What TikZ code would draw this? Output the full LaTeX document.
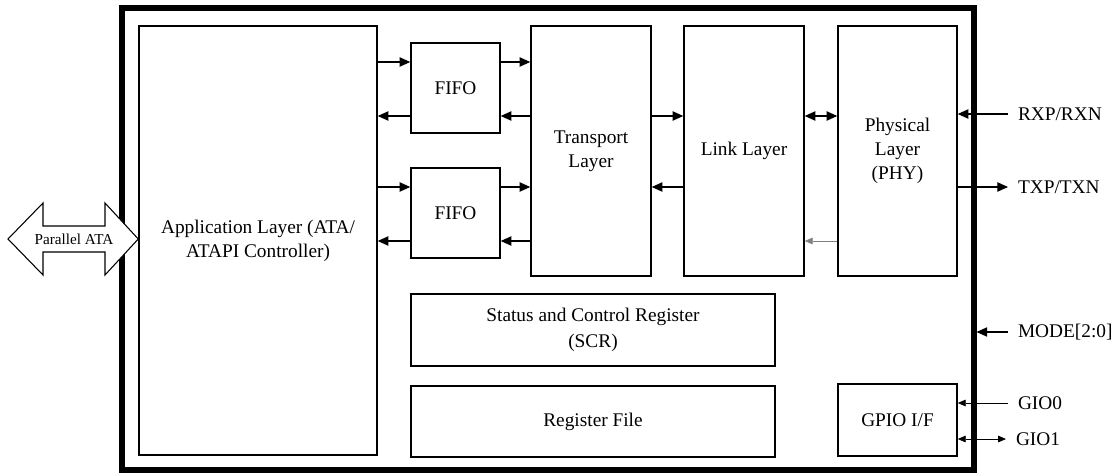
\documentclass[tikz,border=0pt]{standalone}
\usepackage{fontspec}
\setmainfont{Liberation Serif}
\usetikzlibrary{arrows.meta}
\tikzset{
  blk/.style={draw, line width=1.1pt, align=center, inner sep=0pt,
    font=\fontsize{14.5}{18}\selectfont},
  arr/.style={line width=0.9pt, -{Triangle[length=8pt,width=7pt]}},
  darr/.style={line width=0.9pt, {Triangle[length=8pt,width=7pt]}-{Triangle[length=8pt,width=7pt]}},
  thinarr/.style={line width=0.6pt, -{Triangle[length=6pt,width=5pt]}},
  thindarr/.style={line width=0.6pt, {Triangle[length=6pt,width=5pt]}-{Triangle[length=6pt,width=5pt]}},
  sig/.style={anchor=west, inner sep=0pt, outer xsep=7.5pt,
    font=\fontsize{14.5}{17}\selectfont},
}
\begin{document}
\begin{tikzpicture}[x=0.75pt, y=-0.75pt]
  \useasboundingbox (0,0) rectangle (1113,474);
  % chip frame
  \node[draw, line width=3.8pt, minimum width=639pt, minimum height=346.5pt] (chip) at (548,239) {};

  % blocks
  \node[blk, minimum width=178.5pt, minimum height=321.75pt] (app) at (258,240.5)
    {Application Layer (ATA/\\ATAPI Controller)};
  \node[blk, minimum width=66.75pt, minimum height=67.5pt] (fifo1) at (455.5,88) {FIFO};
  \node[blk, minimum width=66.75pt, minimum height=67.5pt] (fifo2) at (455.5,213) {FIFO};
  \node[blk, minimum width=90pt, minimum height=187.5pt] (trans) at (591,151) {Transport\\Layer};
  \node[blk, minimum width=90pt, minimum height=187.5pt] (link) at (744,151) {Link Layer};
  \node[blk, minimum width=89.25pt, minimum height=187.5pt] (phy) at (897.5,151)
    {Physical\\Layer\\(PHY)};
  \node[blk, minimum width=273pt, minimum height=54pt] (scr) at (593,330)
    {Status and Control Register\\[1.5pt](SCR)};
  \node[blk, minimum width=273pt, minimum height=53.25pt] (regf) at (593,421.5) {Register File};
  \node[blk, minimum width=89.25pt, minimum height=54pt] (gpio) at (897.5,420) {GPIO I/F};

  % rows of the data paths
  \coordinate (ra) at (0,62);
  \coordinate (rb) at (0,116);
  \coordinate (rc) at (0,187);
  \coordinate (rd) at (0,241);

  \draw[arr] (app.east |- ra) -- (fifo1.west |- ra);
  \draw[arr] (fifo1.west |- rb) -- (app.east |- rb);
  \draw[arr] (fifo1.east |- ra) -- (trans.west |- ra);
  \draw[arr] (trans.west |- rb) -- (fifo1.east |- rb);
  \draw[arr] (app.east |- rc) -- (fifo2.west |- rc);
  \draw[arr] (fifo2.west |- rd) -- (app.east |- rd);
  \draw[arr] (fifo2.east |- rc) -- (trans.west |- rc);
  \draw[arr] (trans.west |- rd) -- (fifo2.east |- rd);
  \draw[arr] (trans.east |- rb) -- (link.west |- rb);
  \draw[arr] (link.west |- rc) -- (trans.east |- rc);
  \draw[darr] (link.east |- rb) -- (phy.west |- rb);
  \draw[thinarr, gray] (phy.west |- rd) -- (link.east |- rd);

  % external signals
  \node[sig] (rxp) at (1008,114) {RXP/RXN};
  \node[sig] (txp) at (1008,187) {TXP/TXN};
  \node[sig] (mode) at (1008,332) {MODE[2:0]};
  \node[sig] (gio0) at (1008,403) {GIO0};
  \node[sig] (gio1) at (1006,439) {GIO1};
  \draw[arr] (rxp.west) -- (phy.east |- rxp.west);
  \draw[arr] (phy.east |- txp.west) -- (txp.west);
  \draw[arr] (mode.west) -- (chip.east |- mode.west);
  \draw[thinarr] (gio0.west) -- (gpio.east |- gio0.west);
  \draw[thindarr] (gpio.east |- gio1.west) -- (gio1.west);

  % parallel ATA bus
  \coordinate (pr) at (app.west |- 0,239);
  \draw[line width=0.8pt, fill=white] (8,239) -- (43,203) -- (43,226) -- (105,226) -- (105,203) -- (pr)
    -- (105,275) -- (105,252) -- (43,252) -- (43,275) -- cycle;
  \node[font=\fontsize{11.4}{13}\selectfont] (pata) at (74,239) {Parallel ATA};
\end{tikzpicture}
\end{document}
